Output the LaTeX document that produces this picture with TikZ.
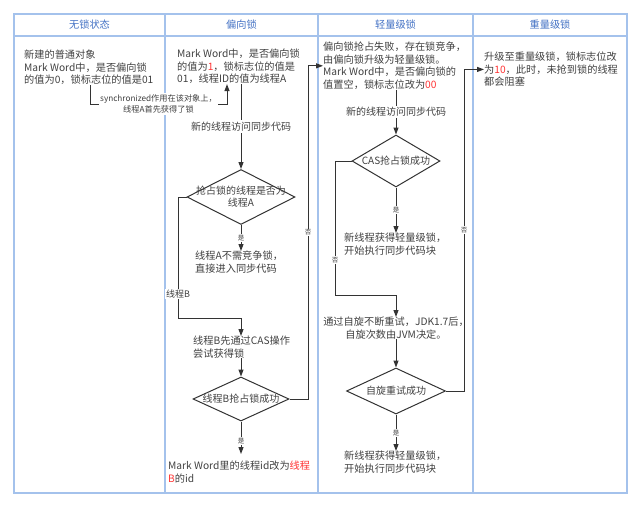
\documentclass[tikz,border=0pt]{standalone}
\usepackage{fontspec}
\setmainfont{Noto Sans CJK SC}
\usetikzlibrary{shapes.geometric,arrows.meta}

\begin{document}
\begin{tikzpicture}[x=1pt,y=-1pt,
    txt/.style={inner sep=0pt, align=left, text=textgray, font=\fontsize{10.2}{12.5}\selectfont},
    head/.style={text=headblue, font=\fontsize{10.2}{12}\selectfont},
    decision/.style={diamond, draw=linegray, line width=1pt, inner sep=0pt},
    dlab/.style={align=center, inner sep=0pt, text=textgray, font=\fontsize{10}{12}\selectfont},
    flow/.style={draw=linegray, line width=1pt, -{Triangle[length=7pt,width=5pt]}},
    midtext/.style={fill=white, inner sep=1.5pt, text=textgray, font=\fontsize{10}{12}\selectfont},
    tag/.style={fill=white, inner sep=1pt, text=textgray, font=\fontsize{6.5}{7}\selectfont},
    grid/.style={gridblue, line width=1.3pt}]
    % Define custom colors
    \definecolor{gridblue}{RGB}{164,194,236}
    \definecolor{headblue}{RGB}{68,114,196}
    \definecolor{textgray}{RGB}{64,64,64}
    \definecolor{linegray}{RGB}{51,51,51}
    \definecolor{markred}{RGB}{255,51,51}

    \useasboundingbox (0,0) rectangle (641,507);

    % Table frame
    \draw[grid] (14,14) rectangle (627,493);
    \draw[grid] (14,36) -- (627,36);
    \foreach \x in {165,318,473} \draw[grid] (\x,14) -- (\x,493);

    % Column headers
    \node[head] (h1) at (89.5,25) {无锁状态};
    \node[head] (h2) at (241.5,25) {偏向锁};
    \node[head] (h3) at (395.5,25) {轻量级锁};
    \node[head] (h4) at (550,25) {重量级锁};

    % Column 1 - no lock
    \node[txt, anchor=north west] (plain) at (24,50) {新建的普通对象\\Mark Word中，是否偏向锁\\的值为0，锁标志位的值是01};

    % Column 2 - biased lock
    \node[txt, anchor=north west] (bias) at (177,49) {Mark Word中，是否偏向锁\\的值为\textcolor{markred}{1}，锁标志位的值是\\01，线程ID的值为线程A};
    \coordinate (s1) at (90,104);
    \coordinate (s2) at (227,104);
    \draw[flow] (plain.south -| s1) -- (s1) -- node[midtext, align=center, font=\fontsize{8.2}{11}\selectfont] {synchronized作用在该对象上，\\线程A首先获得了锁} (s2) -- (bias.south -| s2);

    \node[decision, minimum width=108, minimum height=55] (d1) at (241,197) {};
    \node[dlab] (d1t) at (d1) {抢占锁的线程是否为\\线程A};
    \draw[flow] (bias.south -| d1) -- node[midtext] {新的线程访问同步代码} (d1.north);

    \node[txt, anchor=north west] (noneed) at (195,251) {线程A不需竞争锁，\\直接进入同步代码};
    \draw[flow] (d1.south) -- node[tag] {是} (d1.south |- noneed.north);

    \node[txt, anchor=north west] (casB) at (193,336) {线程B先通过CAS操作\\尝试获得锁};
    \coordinate (b1) at (178,318);
    \draw[flow] (d1.west) -| node[tag, pos=0.9, font=\fontsize{9}{10}\selectfont] {线程B} (b1) -- (b1 -| d1) -- (casB.north -| d1);

    \node[decision, minimum width=96, minimum height=44] (d2) at (241,399) {};
    \node[dlab] (d2t) at (d2) {线程B抢占锁成功};
    \draw[flow] (casB.south -| d2) -- (d2.north);

    \node[txt, anchor=north west] (mwB) at (168,461) {Mark Word里的线程id改为\textcolor{markred}{线程}\\\textcolor{markred}{B}的id};
    \draw[flow, shorten >=7pt] (d2.south) -- node[tag] {是} (d2.south |- mwB.north);

    % Column 3 - lightweight lock
    \node[txt, anchor=north west] (light) at (323,42) {偏向锁抢占失败，存在锁竞争，\\由偏向锁升级为轻量级锁。\\Mark Word中，是否偏向锁的\\值置空，锁标志位改为\textcolor{markred}{00}};
    \coordinate (n1) at (308,0);
    \draw[flow] (d2.east) -- (d2.east -| n1) |- node[tag, pos=0.25] {否} (light.west);

    \node[decision, minimum width=88, minimum height=52] (d3) at (396,161) {};
    \node[dlab] (d3t) at (d3) {CAS抢占锁成功};
    \draw[flow] (light.south -| d3) -- node[midtext] {新的线程访问同步代码} (d3.north);

    \node[txt, anchor=north west] (got1) at (344,233) {新线程获得轻量级锁，\\开始执行同步代码块};
    \draw[flow] (d3.south) -- node[tag] {是} (d3.south |- got1.north);

    \node[txt, anchor=north, align=center] (spin) at (396,317) {通过自旋不断重试，JDK1.7后，\\自旋次数由JVM决定。};
    \coordinate (b2) at (335,295);
    \draw[flow] (d3.west) -| node[tag, pos=0.87] {否} (b2) -- (b2 -| d3) -- (spin.north -| d3);

    \node[decision, minimum width=99, minimum height=46] (d4) at (396,391) {};
    \node[dlab] (d4t) at (d4) {自旋重试成功};
    \draw[flow] (spin.south -| d4) -- (d4.north);

    \node[txt, anchor=north west] (got2) at (344,451) {新线程获得轻量级锁，\\开始执行同步代码块};
    \draw[flow] (d4.south) -- node[tag] {是} (d4.south |- got2.north);

    % Column 4 - heavyweight lock
    \node[txt, anchor=north west] (heavy) at (484,52) {升级至重量级锁，锁标志位改\\为\textcolor{markred}{10}，此时，未抢到锁的线程\\都会阻塞};
    \coordinate (n2) at (464,0);
    \draw[flow] (d4.east) -- (d4.east -| n2) |- node[tag, pos=0.25] {否} (heavy.west);
\end{tikzpicture}
\end{document}
